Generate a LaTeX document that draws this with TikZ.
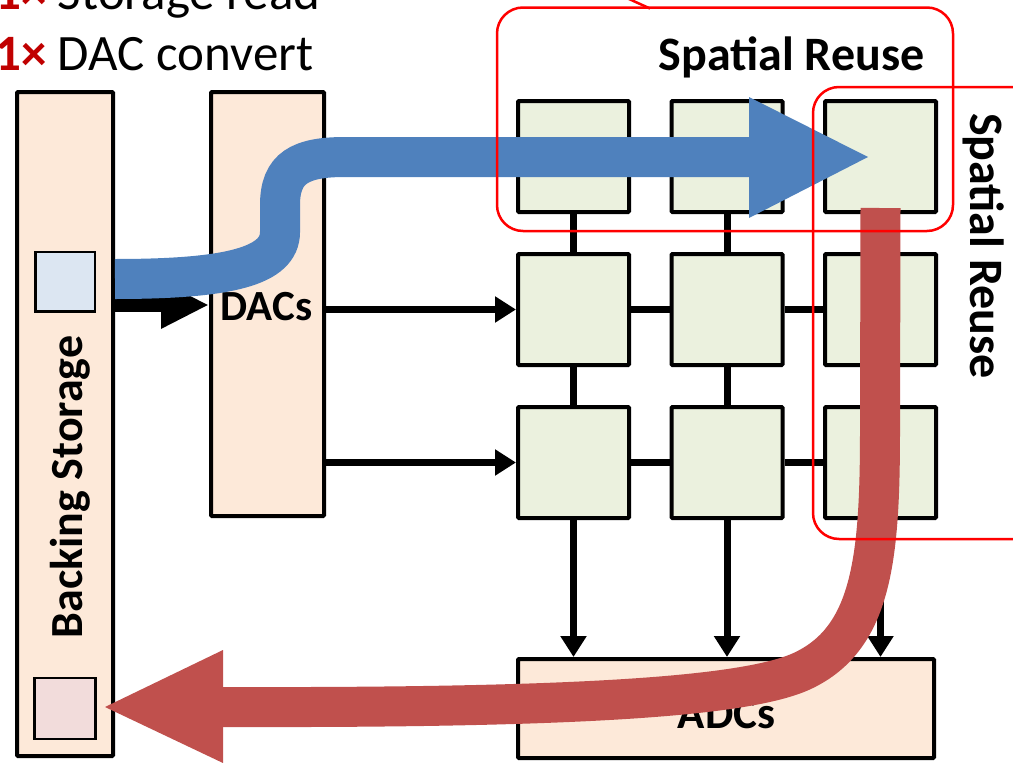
\documentclass[tikz,border=0pt]{standalone}
\usepackage{fontspec}
\setmainfont{Carlito}
\usetikzlibrary{arrows.meta}
\definecolor{cellfill}{HTML}{EBF1DE}
\definecolor{unitfill}{HTML}{FDE9D9}
\definecolor{inbuf}{HTML}{DCE6F2}
\definecolor{outbuf}{HTML}{F2DCDB}
\definecolor{flowblue}{HTML}{4F81BD}
\definecolor{flowred}{HTML}{C0504D}
\definecolor{countred}{HTML}{C00000}
\tikzset{
  pecell/.style={draw, line width=4pt, fill=cellfill, minimum size=111pt, inner sep=0pt, rounded corners=1pt},
  unitbox/.style={draw, line width=4pt, fill=unitfill, inner sep=0pt, rounded corners=1pt},
  bufbox/.style={draw, line width=2.5pt, inner sep=0pt},
  wire/.style={line width=7pt},
  feedarrow/.style={wire, -{Triangle[length=21pt,width=25pt]}},
  lbltext/.style={inner sep=0pt, font=\fontsize{#1}{#1}\selectfont\bfseries},
  counttext/.style={inner sep=0pt, anchor=base west, font=\fontsize{51}{61}\selectfont},
  reusebox/.style={draw=red, line width=2.5pt, rounded corners=26pt},
  flowband/.style={line width=40pt},
}
\begin{document}
\begin{tikzpicture}[x=1pt,y=-1pt]
\useasboundingbox (0,0) rectangle (1013,763);
\clip (0,0) rectangle (1013,763);

% storage, converters
\node[unitbox, minimum width=96pt, minimum height=664pt] (bs) at (65,424) {};
\node[bufbox, fill=inbuf, minimum size=59.5pt] (inb) at (65,281.5) {};
\node[bufbox, fill=outbuf, minimum size=61pt] (outb) at (65,708.5) {};
\node[unitbox, minimum width=113pt, minimum height=424pt] (dacs) at (267.5,304) {};
\node[unitbox, minimum width=416pt, minimum height=99pt] (adcs) at (726,708.5) {};

% processing array
\foreach \r/\y in {1/156.5,2/309.5,3/462.5}{
  \foreach \c/\x in {1/573.5,2/727,3/880.5}{
    \node[pecell] (c\r\c) at (\x,\y) {};
  }
}
\foreach \r in {1,2,3}{
  \draw[wire] (c\r1.east) -- (c\r2.west);
  \draw[wire] (c\r2.east) -- (c\r3.west);
}
\foreach \c in {1,2,3}{
  \draw[wire] (c1\c.south) -- (c2\c.north);
  \draw[wire] (c2\c.south) -- (c3\c.north);
  \draw[feedarrow] (c3\c.south) -- (c3\c.south |- adcs.north);
}
\draw[feedarrow] (dacs.east |- c21) -- (c21.west);
\draw[feedarrow] (dacs.east |- c31) -- (c31.west);
\draw[line width=14pt, -{Triangle[length=48pt,width=44pt]}] (bs.east |- 0,305) -- (dacs.west |- 0,305);

% labels
\node[lbltext=46, rotate=90, anchor=base] (bslbl) at (82,487) {Backing Storage};
\node[lbltext=43, anchor=base] (daclbl) at (266.5,320) {DACs};
\node[lbltext=45, anchor=base] (adclbl) at (726.5,728) {ADCs};
\node[lbltext=48, anchor=base] (sr1) at (791.5,70) {Spatial Reuse};
\node[lbltext=48, rotate=-90, anchor=base] (sr2) at (970,246) {Spatial Reuse};
\node[counttext] (cnt1) at (-5,9) {\textcolor{countred}{\bfseries 1×} Storage read};
\node[counttext] (cnt2) at (-5,70) {\textcolor{countred}{\bfseries 1×} DAC convert};

% input flow
\coordinate (bhead) at (750,157);
\draw[flowband, flowblue] (bs.east |- 0,279) .. controls (230,279) and (280,266) .. (280,232)
  -- (280,205) .. controls (280,168) and (300,157) .. (345,157) -- (bhead);
\fill[flowblue] (749,97) -- (868,157) -- (749,218) -- cycle;

% output flow
\coordinate (rhead) at (222,707);
\draw[flowband, flowred] (c13.south |- 0,208) -- (880,430)
  .. controls (880,560) and (872,640) .. (800,672)
  .. controls (740,698) and (560,708) .. (rhead);
\fill[flowred] (223,650) -- (105,707) -- (223,763) -- cycle;

% reuse regions
\draw[reusebox] (497,7.5) rectangle (953,231);
\draw[reusebox] (813,87) rectangle (1045,539);
\draw[red, line width=2.5pt] (618,-6) -- (650,8.5);
\end{tikzpicture}
\end{document}
